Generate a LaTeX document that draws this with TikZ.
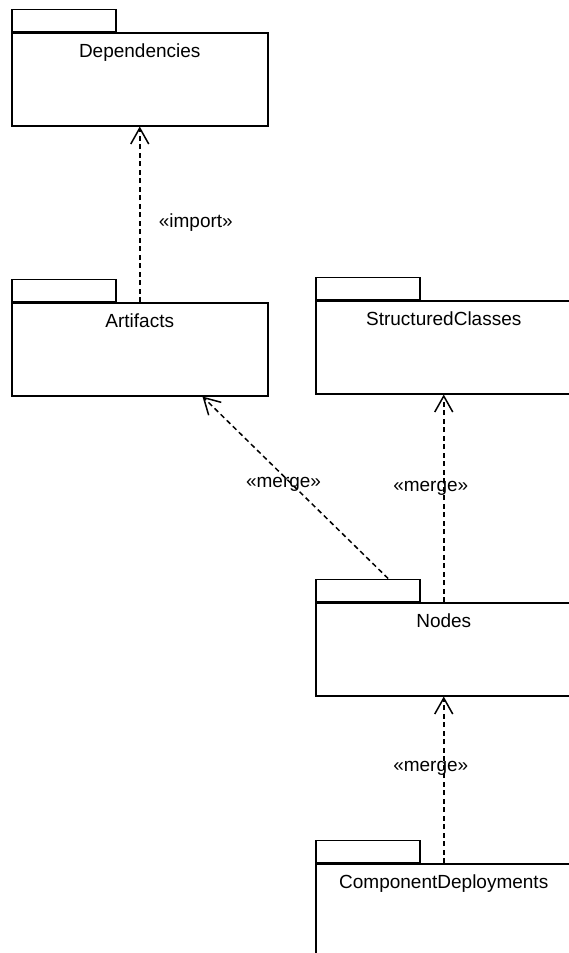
\documentclass[tikz,border=0pt]{standalone}
\usepackage{fontspec}
\setmainfont{Liberation Sans}
\usetikzlibrary{arrows.meta}

\begin{document}
\begin{tikzpicture}[x=1pt,y=-1pt,font=\fontsize{19}{22}\selectfont,line width=1.5pt,
 pkg/.style={rectangle,draw,minimum width=256pt,text height=14pt,text depth=57pt,inner xsep=0pt,inner ysep=11pt,anchor=north west},
 pkgtab/.style={rectangle,draw,minimum width=104pt,minimum height=22pt,inner sep=0pt,anchor=south west},
 merge/.style={dash pattern=on 5pt off 3.5pt,-{Straight Barb[length=16pt,width=18pt,line width=1.5pt]}}]
\useasboundingbox (0,0) rectangle (568,953);
\node[pkg] (dep) at (11,32) {Dependencies};
\node[pkgtab] (deptab) at (dep.north west) {};
\node[pkg] (art) at (11,302) {Artifacts};
\node[pkgtab] (arttab) at (art.north west) {};
\node[pkg] (struct) at (315,300) {StructuredClasses};
\node[pkgtab] (structtab) at (struct.north west) {};
\node[pkg] (nodes) at (315,602) {Nodes};
\node[pkgtab] (nodestab) at (nodes.north west) {};
\node[pkg] (comp) at (315,863) {ComponentDeployments};
\node[pkgtab] (comptab) at (comp.north west) {};
\draw[merge] (art.north) -- node[pos=0.45,right=15pt]{«import»} (dep.south);
\draw[merge] (nodestab.30) -- node[pos=0.52,xshift=-8pt]{«merge»} (art.-37);
\draw[merge] (nodes.north) -- node[pos=0.55,xshift=-13pt]{«merge»} (struct.south);
\draw[merge] (comp.north) -- node[pos=0.57,xshift=-13pt]{«merge»} (nodes.south);
\end{tikzpicture}
\end{document}
